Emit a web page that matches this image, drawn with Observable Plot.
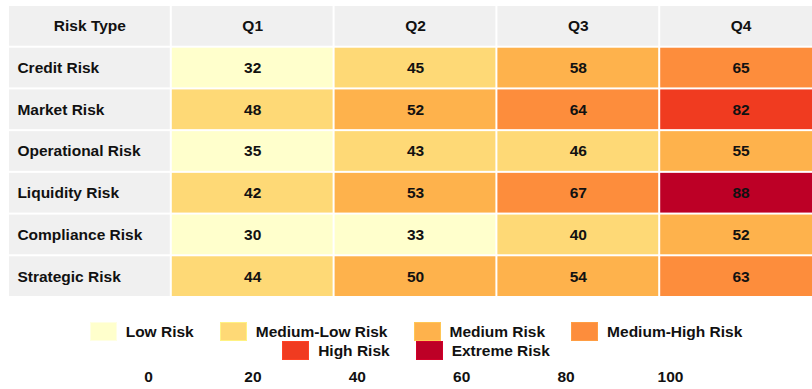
<!DOCTYPE html>
<html>
<head>
<meta charset="utf-8">
<script src="https://cdn.jsdelivr.net/npm/d3@7"></script>
<script src="https://cdn.jsdelivr.net/npm/@observablehq/plot@0.6"></script>
<style>
  body { margin: 0; background: #fff; font-family: "Liberation Sans", Arial, sans-serif; overflow: hidden; }
  #chart svg, #axis svg { display: block; }
  #legend { display: flex; flex-wrap: wrap; justify-content: center; width: 720px; margin-left: 56px; box-sizing: border-box; margin-top: 22px; }
  .item { display: flex; align-items: center; height: 19px; margin: 0 13px; font-weight: bold; font-size: 15.5px; color: #111; }
  .sw { width: 27px; height: 19px; margin-right: 9px; box-sizing: border-box; }
</style>
</head>
<body>
<div id="chart"></div>
<div id="legend"></div>
<div id="axis"></div>
<script>
const quarters = ["Q1", "Q2", "Q3", "Q4"];
const risks = ["Credit Risk", "Market Risk", "Operational Risk", "Liquidity Risk", "Compliance Risk", "Strategic Risk"];
const q1 = [32, 48, 35, 42, 30, 44];
const q2 = [45, 52, 43, 53, 33, 50];
const q3 = [58, 64, 46, 67, 40, 54];
const q4 = [65, 82, 55, 88, 52, 63];
const levelLabels = ["Low Risk", "Medium-Low Risk", "Medium Risk", "Medium-High Risk", "High Risk", "Extreme Risk"];
const levelColors = ["#ffffcc", "#fed976", "#feb24c", "#fd8d3c", "#f03b20", "#bd0026"];
const thresholds = [40, 50, 60, 75, 85];
const axisTicks = [0, 20, 40, 60, 80, 100];

const series = [q1, q2, q3, q4];
const data = [];
risks.forEach((r, i) => quarters.forEach((q, j) => data.push({risk: r, quarter: q, value: series[j][i]})));
const columns = ["Risk Type", ...quarters];
const HEADER = "__header";

const font = {fontSize: 15.5, fontWeight: "bold", fill: "#111"};

const chart = Plot.plot({
  width: 812,
  height: 300,
  margin: 0,
  style: {fontFamily: "'Liberation Sans', Arial, sans-serif", background: "transparent"},
  x: {domain: columns, range: [8, 822], padding: 0, round: false, axis: null},
  y: {domain: [HEADER, ...risks], range: [5, 297], padding: 0, round: false, axis: null},
  color: {type: "threshold", domain: thresholds, range: levelColors},
  marks: [
    Plot.cell(columns, {x: d => d, y: () => HEADER, fill: "#f0f0f0", inset: 1}),
    Plot.cell(risks, {x: () => "Risk Type", y: d => d, fill: "#f0f0f0", inset: 1}),
    Plot.cell(data, {x: "quarter", y: "risk", fill: "value", inset: 1}),
    Plot.text(columns, {x: d => d, y: () => HEADER, text: d => d, ...font}),
    Plot.text(risks, {x: () => "Risk Type", y: d => d, text: d => d, textAnchor: "start", dx: -72.5, ...font}),
    Plot.text(data, {x: "quarter", y: "risk", text: d => String(d.value), ...font})
  ]
});
document.getElementById("chart").append(chart);

const legend = document.getElementById("legend");
levelLabels.forEach((lab, i) => {
  const it = document.createElement("div");
  it.className = "item";
  const sw = document.createElement("div");
  sw.className = "sw";
  sw.style.background = levelColors[i];
  sw.style.border = "1px solid " + d3.color(levelColors[i]).brighter(0.3);
  it.append(sw);
  const t = document.createElement("span");
  t.textContent = lab;
  it.append(t);
  legend.append(it);
});

const axis = Plot.plot({
  width: 812,
  height: 29,
  marginTop: 0,
  marginBottom: 22,
  marginLeft: 0,
  marginRight: 0,
  style: {fontFamily: "'Liberation Sans', Arial, sans-serif", fontSize: "15.5px", fontWeight: "bold", color: "#111"},
  x: {domain: [0, 100], range: [148, 670]},
  marks: [
    Plot.axisX(axisTicks, {anchor: "bottom", tickSize: 0, tickPadding: 3, label: null, fill: "#111"})
  ]
});
document.getElementById("axis").append(axis);
</script>
</body>
</html>
